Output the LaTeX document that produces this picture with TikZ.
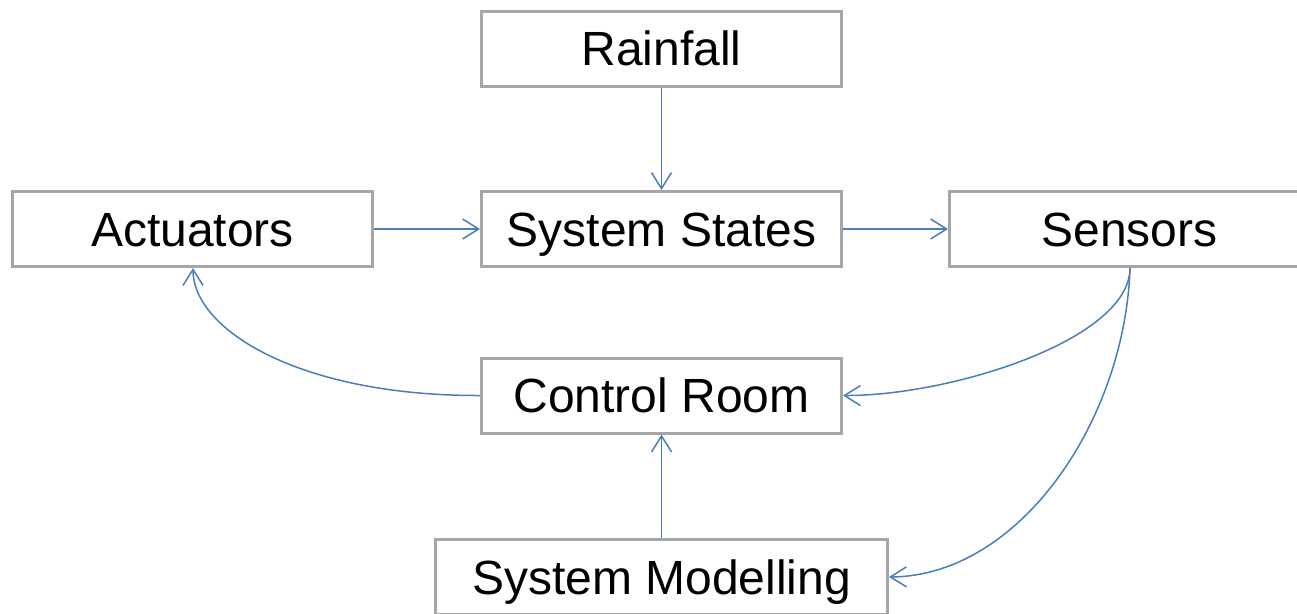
\documentclass[tikz,border=0pt]{standalone}
\usepackage{fontspec}
\setmainfont{Liberation Sans}
\usetikzlibrary{arrows.meta}
\definecolor{boxgray}{HTML}{A6A6A6}
\definecolor{linkblue}{HTML}{4A7EBB}
\begin{document}
\begin{tikzpicture}[x=1pt,y=1pt,
  blk/.style={draw=boxgray, line width=3pt, fill=white, minimum width=360pt, minimum height=75pt,
    inner sep=0pt, font=\fontsize{48}{52}\selectfont, text height=34pt, text depth=0pt},
  link/.style={draw=linkblue, line width=1.5pt, -{Straight Barb[length=16pt,width=20pt,line width=1.5pt]}}]
\useasboundingbox (0,0) rectangle (1297,-613);
\node[blk] (rain) at (661.5,-48.5) {Rainfall};
\node[blk] (act) at (192.5,-229) {Actuators};
\node[blk] (states) at (661.5,-229) {System States};
\node[blk] (sens) at (1129.5,-229) {Sensors};
\node[blk] (ctrl) at (661.5,-395.5) {Control Room};
\node[blk, minimum width=452pt] (model) at (661.5,-577) {System Modelling};
\coordinate (actb) at (193,-268);
\coordinate (sensb) at (1130,-268);
\draw[link] (rain.south) -- (states.north);
\draw[link] (act.east) -- (states.west);
\draw[link] (states.east) -- (sens.west);
\draw[link] (model.north) -- (ctrl.south);
\draw[link] (ctrl.west) .. controls (300,-396) and (193,-330) .. (actb);
\draw[link] (sensb) .. controls (1130,-340) and (950,-396) .. (ctrl.east);
\draw[link] (sensb) .. controls (1125,-420) and (1020,-576) .. (model.east);
\end{tikzpicture}
\end{document}
